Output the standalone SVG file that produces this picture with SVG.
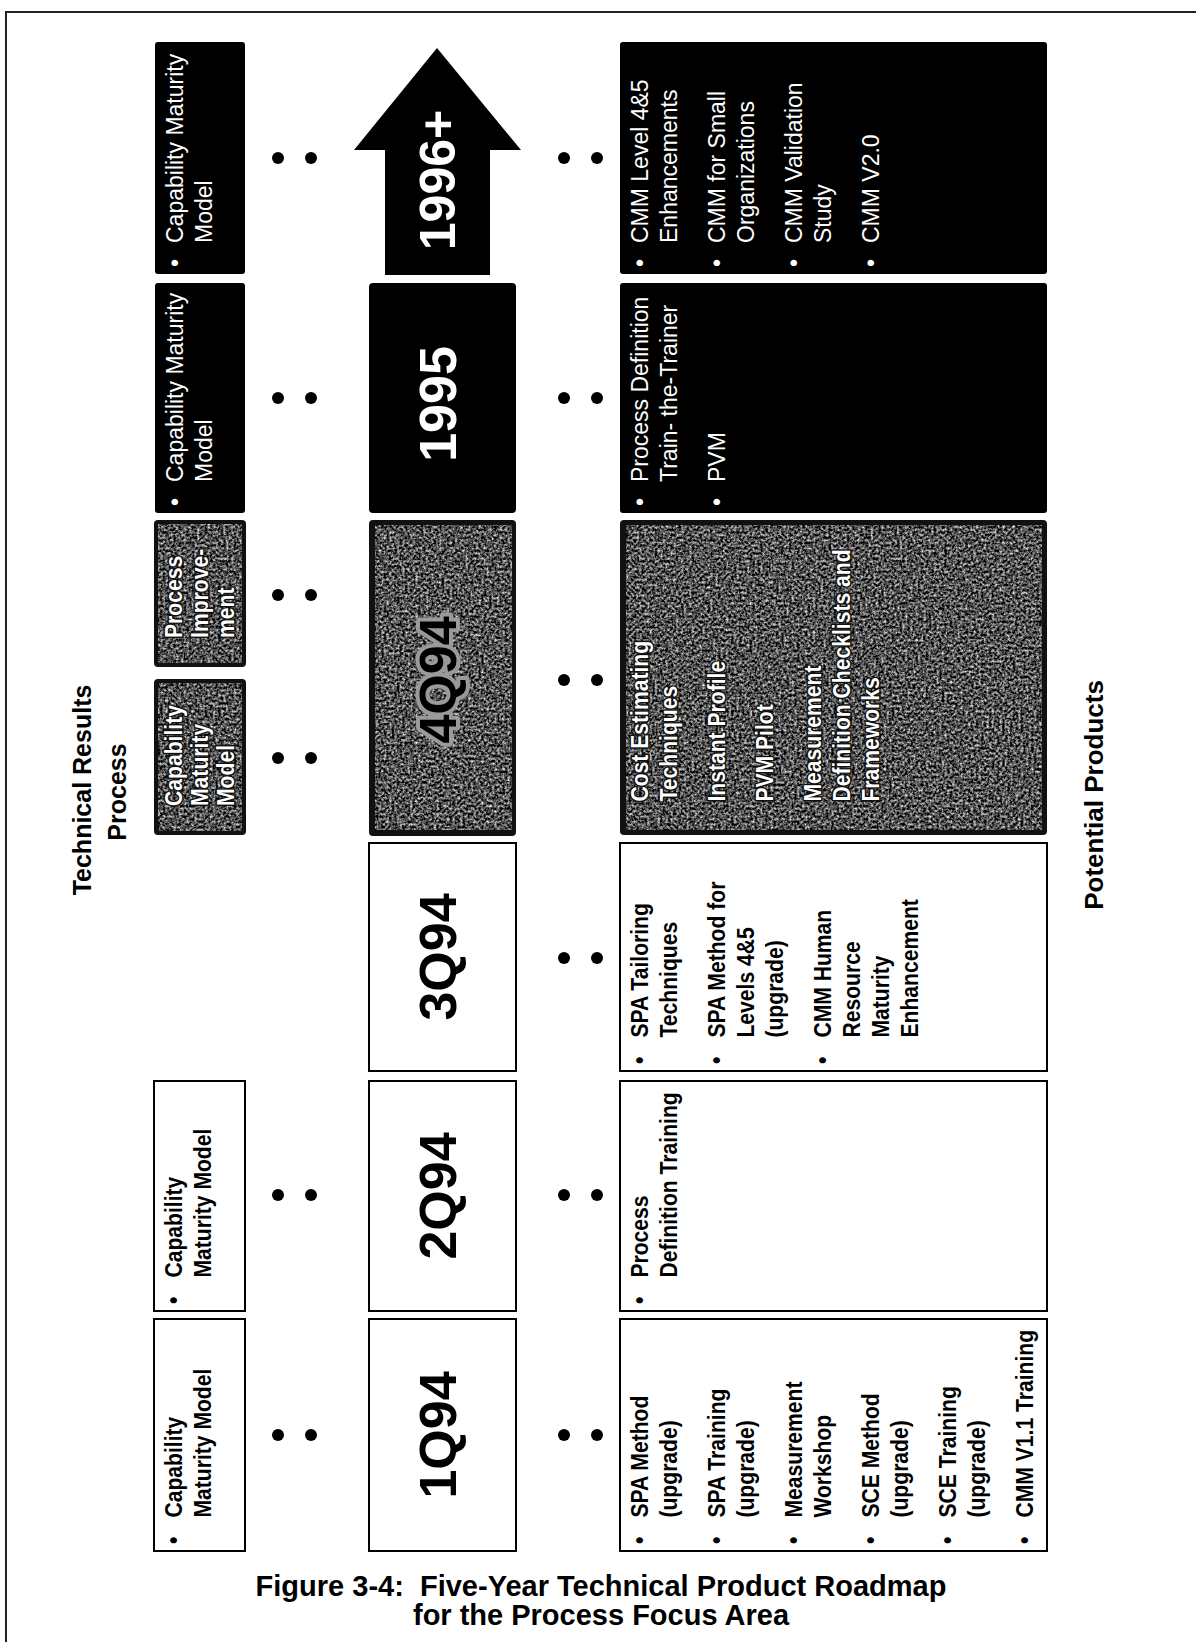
<svg xmlns="http://www.w3.org/2000/svg" width="1196" height="1642" viewBox="0 0 1196 1642">
<defs>
<filter id="grain" x="0" y="0" width="100%" height="100%" color-interpolation-filters="sRGB">
<feTurbulence type="fractalNoise" baseFrequency="0.38" numOctaves="4" seed="11" result="t"/>
<feColorMatrix in="t" type="matrix" values="1.6 0 0 0 -0.48  1.6 0 0 0 -0.48  1.6 0 0 0 -0.48  0 0 0 0 1" result="g"/>
<feComposite in="g" in2="SourceGraphic" operator="in"/>
</filter>
<style>
.bold{font-family:"Liberation Sans",Arial,sans-serif;font-weight:bold;font-size:24px;fill:#000}
.reg{font-family:"Liberation Sans",Arial,sans-serif;font-size:23px;fill:#fff}
.inv{fill:#fff;stroke:#111;stroke-width:3;paint-order:stroke;stroke-linejoin:round}
.year{font-family:"Liberation Sans",Arial,sans-serif;font-weight:bold;font-size:52px;text-anchor:middle;fill:#000}
.head{font-family:"Liberation Sans",Arial,sans-serif;font-weight:bold;font-size:25px;text-anchor:middle;fill:#000}
.cap{font-family:"Liberation Sans",Arial,sans-serif;font-weight:bold;font-size:29px;text-anchor:middle;fill:#000;white-space:pre}
.box{fill:#fff;stroke:#000;stroke-width:2}
.blk{fill:#000}
.gframe{fill:#111}
.gin{fill:#000;filter:url(#grain)}
.dot{fill:#000}
</style>
</defs>
<rect width="1196" height="1642" fill="#fff"/>
<path d="M6 1642 V12 H1196" fill="none" stroke="#222" stroke-width="2"/>

<g id="headers">
<text class="head" transform="translate(91,790) rotate(-90)">Technical Results</text>
<text class="head" transform="translate(126,792) rotate(-90)">Process</text>
<text class="head" style="font-size:26px" transform="translate(1103,795) rotate(-90)">Potential Products</text>
</g>

<g id="tech-1996">
<rect x="155" y="42" width="90" height="232" rx="3" class="blk"/>
<text class="reg" transform="translate(183,274) rotate(-90)"><tspan x="7">•</tspan><tspan x="31">Capability Maturity</tspan><tspan x="31" dy="29">Model</tspan></text>
</g>
<g id="tech-1995">
<rect x="155" y="283" width="90" height="230" rx="3" class="blk"/>
<text class="reg" transform="translate(183,513) rotate(-90)"><tspan x="7">•</tspan><tspan x="31">Capability Maturity</tspan><tspan x="31" dy="29">Model</tspan></text>
</g>
<g id="tech-4q94-pi">
<rect x="154" y="520" width="92" height="147" rx="4" class="gframe"/>
<rect x="158" y="524" width="84" height="139" class="gin"/>
<text class="bold inv" transform="translate(182,667) rotate(-90) scale(0.88,1)"><tspan x="33">Process</tspan><tspan x="33" dy="26">Improve-</tspan><tspan x="33" dy="26">ment</tspan></text>
</g>
<g id="tech-4q94-cmm">
<rect x="154" y="679" width="92" height="156" rx="4" class="gframe"/>
<rect x="158" y="683" width="84" height="148" class="gin"/>
<text class="bold inv" transform="translate(182,835) rotate(-90) scale(0.88,1)"><tspan x="33">Capability</tspan><tspan x="33" dy="26">Maturity</tspan><tspan x="33" dy="26">Model</tspan></text>
</g>
<g id="tech-2q94">
<rect x="154" y="1081" width="91" height="230" class="box"/>
<text class="bold" transform="translate(182,1311) rotate(-90) scale(0.88,1)"><tspan x="8">•</tspan><tspan x="38">Capability</tspan><tspan x="38" dy="29">Maturity Model</tspan></text>
</g>
<g id="tech-1q94">
<rect x="154" y="1319" width="91" height="232" class="box"/>
<text class="bold" transform="translate(182,1551) rotate(-90) scale(0.88,1)"><tspan x="8">•</tspan><tspan x="38">Capability</tspan><tspan x="38" dy="29">Maturity Model</tspan></text>
</g>

<g id="year-1996">
<polygon points="437,48 521,150 490,150 490,275 385,275 385,150 354,150" class="blk"/>
<text class="year" style="fill:#fff;font-size:50px" transform="translate(455,180) rotate(-90)">1996+</text>
</g>
<g id="year-1995">
<rect x="369" y="283" width="147" height="230" rx="4" class="blk"/>
<text class="year" style="fill:#fff" transform="translate(456,404) rotate(-90)">1995</text>
</g>
<g id="year-4q94">
<rect x="369" y="520" width="147" height="316" rx="4" class="gframe"/>
<rect x="375" y="525" width="137" height="305" class="gin"/>
<text class="year" style="stroke:#9a9a9a;stroke-width:8;paint-order:stroke;stroke-linejoin:round" transform="translate(456,680) rotate(-90)">4Q94</text>
</g>
<g id="year-3q94">
<rect x="369" y="843" width="147" height="228" class="box"/>
<text class="year" transform="translate(456,957) rotate(-90)">3Q94</text>
</g>
<g id="year-2q94">
<rect x="369" y="1081" width="147" height="230" class="box"/>
<text class="year" transform="translate(456,1196) rotate(-90)">2Q94</text>
</g>
<g id="year-1q94">
<rect x="369" y="1319" width="147" height="232" class="box"/>
<text class="year" transform="translate(456,1435) rotate(-90)">1Q94</text>
</g>

<g id="prod-1996">
<rect x="620" y="42" width="427" height="232" rx="3" class="blk"/>
<text class="reg" transform="translate(648,274) rotate(-90)"><tspan x="7">•</tspan><tspan x="31">CMM Level 4&amp;5</tspan><tspan x="31" dy="29">Enhancements</tspan></text>
<text class="reg" transform="translate(725,274) rotate(-90)"><tspan x="7">•</tspan><tspan x="31">CMM for Small</tspan><tspan x="31" dy="29">Organizations</tspan></text>
<text class="reg" transform="translate(802,274) rotate(-90)"><tspan x="7">•</tspan><tspan x="31">CMM Validation</tspan><tspan x="31" dy="29">Study</tspan></text>
<text class="reg" transform="translate(879,274) rotate(-90)"><tspan x="7">•</tspan><tspan x="31">CMM V2.0</tspan></text>
</g>
<g id="prod-1995">
<rect x="620" y="283" width="427" height="230" rx="3" class="blk"/>
<text class="reg" transform="translate(648,513) rotate(-90)"><tspan x="7">•</tspan><tspan x="31">Process Definition</tspan><tspan x="31" dy="29">Train- the-Trainer</tspan></text>
<text class="reg" transform="translate(725,513) rotate(-90)"><tspan x="7">•</tspan><tspan x="31">PVM</tspan></text>
</g>
<g id="prod-4q94">
<rect x="620" y="520" width="427" height="315" rx="4" class="gframe"/>
<rect x="626" y="525" width="416" height="305" class="gin"/>
<text class="bold inv" transform="translate(648,835) rotate(-90) scale(0.88,1)"><tspan x="38">Cost Estimating</tspan><tspan x="38" dy="29">Techniques</tspan></text>
<text class="bold inv" transform="translate(725,835) rotate(-90) scale(0.88,1)"><tspan x="38">Instant Profile</tspan></text>
<text class="bold inv" transform="translate(773,835) rotate(-90) scale(0.88,1)"><tspan x="38">PVM Pilot</tspan></text>
<text class="bold inv" transform="translate(821,835) rotate(-90) scale(0.88,1)"><tspan x="38">Measurement</tspan><tspan x="38" dy="29">Definition Checklists and</tspan><tspan x="38" dy="29">Frameworks</tspan></text>
</g>
<g id="prod-3q94">
<rect x="620" y="843" width="427" height="228" class="box"/>
<text class="bold" transform="translate(648,1071) rotate(-90) scale(0.88,1)"><tspan x="8">•</tspan><tspan x="38">SPA Tailoring</tspan><tspan x="38" dy="29">Techniques</tspan></text>
<text class="bold" transform="translate(725,1071) rotate(-90) scale(0.88,1)"><tspan x="8">•</tspan><tspan x="38">SPA Method for</tspan><tspan x="38" dy="29">Levels 4&amp;5</tspan><tspan x="38" dy="29">(upgrade)</tspan></text>
<text class="bold" transform="translate(831,1071) rotate(-90) scale(0.88,1)"><tspan x="8">•</tspan><tspan x="38">CMM Human</tspan><tspan x="38" dy="29">Resource</tspan><tspan x="38" dy="29">Maturity</tspan><tspan x="38" dy="29">Enhancement</tspan></text>
</g>
<g id="prod-2q94">
<rect x="620" y="1081" width="427" height="230" class="box"/>
<text class="bold" transform="translate(648,1311) rotate(-90) scale(0.88,1)"><tspan x="8">•</tspan><tspan x="38">Process</tspan><tspan x="38" dy="29">Definition Training</tspan></text>
</g>
<g id="prod-1q94">
<rect x="620" y="1319" width="427" height="232" class="box"/>
<text class="bold" transform="translate(648,1551) rotate(-90) scale(0.88,1)"><tspan x="8">•</tspan><tspan x="38">SPA Method</tspan><tspan x="38" dy="29">(upgrade)</tspan></text>
<text class="bold" transform="translate(725,1551) rotate(-90) scale(0.88,1)"><tspan x="8">•</tspan><tspan x="38">SPA Training</tspan><tspan x="38" dy="29">(upgrade)</tspan></text>
<text class="bold" transform="translate(802,1551) rotate(-90) scale(0.88,1)"><tspan x="8">•</tspan><tspan x="38">Measurement</tspan><tspan x="38" dy="29">Workshop</tspan></text>
<text class="bold" transform="translate(879,1551) rotate(-90) scale(0.88,1)"><tspan x="8">•</tspan><tspan x="38">SCE Method</tspan><tspan x="38" dy="29">(upgrade)</tspan></text>
<text class="bold" transform="translate(956,1551) rotate(-90) scale(0.88,1)"><tspan x="8">•</tspan><tspan x="38">SCE Training</tspan><tspan x="38" dy="29">(upgrade)</tspan></text>
<text class="bold" transform="translate(1033,1551) rotate(-90) scale(0.88,1)"><tspan x="8">•</tspan><tspan x="38">CMM V1.1 Training</tspan></text>
</g>

<g id="connectors">
<circle cx="278" cy="158" r="6" class="dot"/><circle cx="311" cy="158" r="6" class="dot"/>
<circle cx="278" cy="398" r="6" class="dot"/><circle cx="311" cy="398" r="6" class="dot"/>
<circle cx="278" cy="595" r="6" class="dot"/><circle cx="311" cy="595" r="6" class="dot"/>
<circle cx="278" cy="758" r="6" class="dot"/><circle cx="311" cy="758" r="6" class="dot"/>
<circle cx="278" cy="1195" r="6" class="dot"/><circle cx="311" cy="1195" r="6" class="dot"/>
<circle cx="278" cy="1435" r="6" class="dot"/><circle cx="311" cy="1435" r="6" class="dot"/>
<circle cx="564" cy="158" r="6" class="dot"/><circle cx="597" cy="158" r="6" class="dot"/>
<circle cx="564" cy="398" r="6" class="dot"/><circle cx="597" cy="398" r="6" class="dot"/>
<circle cx="564" cy="680" r="6" class="dot"/><circle cx="597" cy="680" r="6" class="dot"/>
<circle cx="564" cy="958" r="6" class="dot"/><circle cx="597" cy="958" r="6" class="dot"/>
<circle cx="564" cy="1195" r="6" class="dot"/><circle cx="597" cy="1195" r="6" class="dot"/>
<circle cx="564" cy="1435" r="6" class="dot"/><circle cx="597" cy="1435" r="6" class="dot"/>
</g>

<g id="caption">
<text class="cap" x="601" y="1596">Figure 3-4:  Five-Year Technical Product Roadmap</text>
<text class="cap" x="601" y="1625">for the Process Focus Area</text>
</g>
</svg>
